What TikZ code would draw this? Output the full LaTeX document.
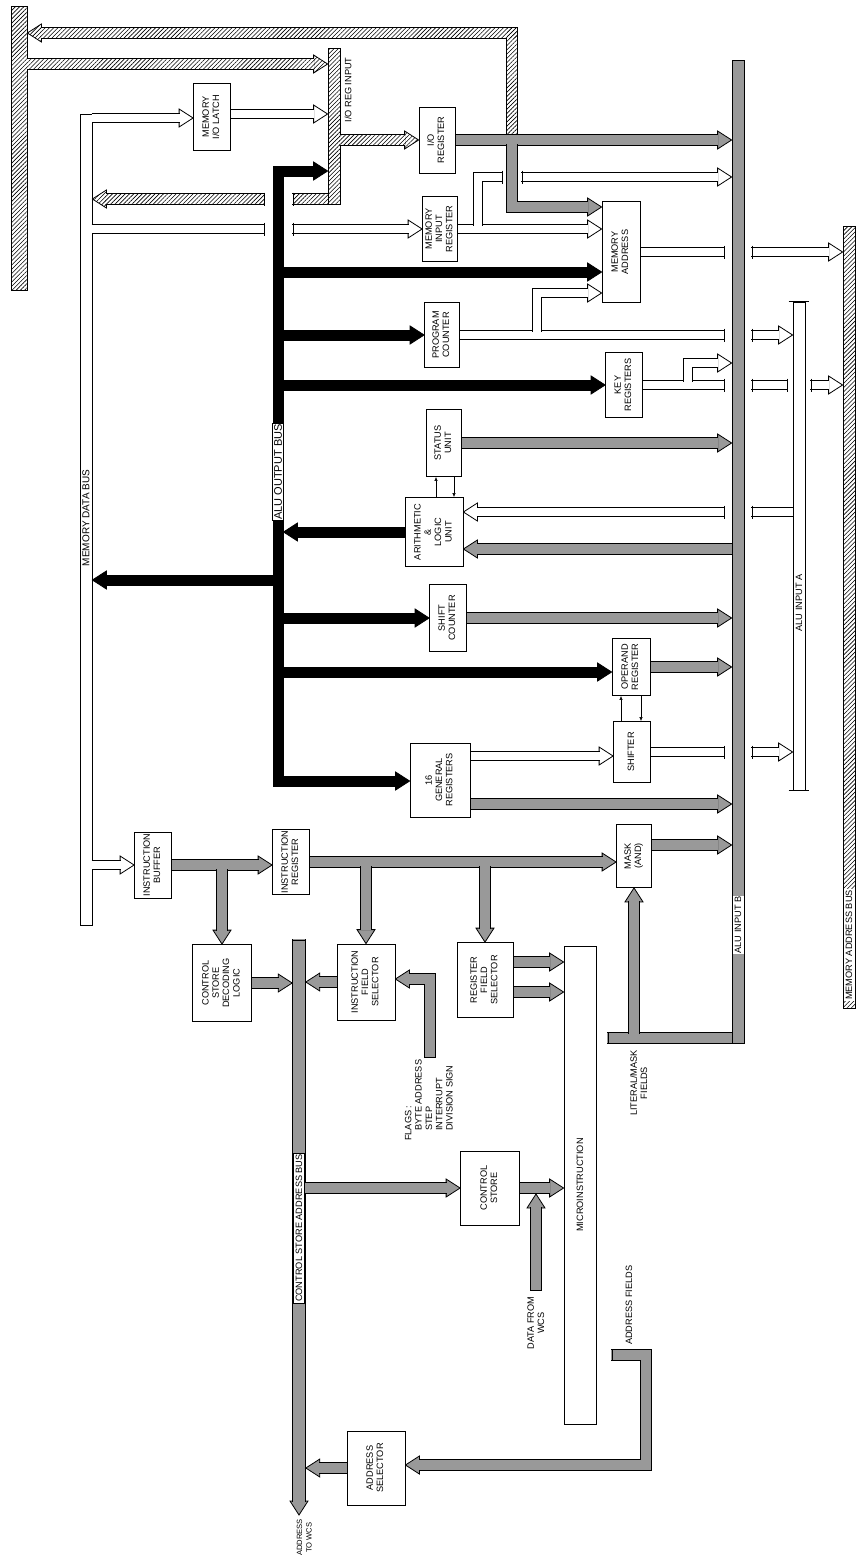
\documentclass[tikz,border=0pt]{standalone}
\usepackage{fontspec}
\setmainfont{Liberation Sans}
\usepackage{graphicx}
\usetikzlibrary{arrows.meta,calc,patterns.meta}
\pgfdeclarelayer{back}
\pgfdeclarelayer{mid}
\pgfsetlayers{back,mid,main}

\newcommand\boxfont{\fontsize{9.2}{10.3}\selectfont}
\newcommand\rt[1]{\rotatebox{90}{\begin{tabular}{@{}c@{}}#1\end{tabular}}}
\newcommand\headlen{14pt}
\newcommand\headhw{9pt}
% head of a fat bus arrow: style, last point, tip
\newcommand\fathead[3]{%
  \coordinate (hp) at (#2); \coordinate (ht) at (#3);
  \coordinate (hb) at ($(ht)!\headlen!(hp)$);
  \filldraw[#1] ($(hb)!\headhw!90:(ht)$) -- (ht) -- ($(hb)!\headhw!-90:(ht)$) -- cycle;}
% fat bus arrow: style, path so far, last point, tip
\newcommand\busto[4]{%
  \fathead{#1 head}{#3}{#4}
  \draw[#1] #2 (#3) -- (hb);}
% end caps of a bus that stops short
\newcommand\vcap[2][6.5]{\coordinate (cp) at (#2);
  \draw[capline] ($(cp)+(0,-#1)$) -- ($(cp)+(0,#1)$);}
\newcommand\hcap[2][6.5]{\coordinate (cp) at (#2);
  \draw[capline] ($(cp)+(-#1,0)$) -- ($(cp)+(#1,0)$);}

\begin{document}
\begin{tikzpicture}[x=1pt, y=-1pt,
  blk/.style={draw, line width=0.8pt, fill=white, inner sep=0pt, font=\boxfont},
  hatch/.style={pattern={Lines[angle=45,distance=3pt,line width=0.6pt]}},
  hbar/.style={draw, line width=0.8pt, fill=white, postaction={hatch}},
  gbar/.style={draw, line width=0.8pt, fill=black!40},
  wbar/.style={draw, line width=0.8pt, fill=white},
  gbus/.style={draw=black, line width=0.8pt, double=black!40, double distance=10pt,
               line join=miter, shorten <=-0.8pt, shorten >=-0.8pt},
  gbus head/.style={draw=black, line width=0.8pt, fill=black!40, line join=miter},
  csbus/.style={gbus, double distance=12pt},
  csbus head/.style={gbus head},
  wbus/.style={gbus, double=white, double distance=8pt},
  wbus head/.style={gbus head, fill=white},
  hbus/.style={gbus, double=white},
  hbus head/.style={gbus head, fill=white, postaction={hatch}},
  kbus/.style={draw=black, line width=11pt, line join=miter, shorten <=-0.8pt, shorten >=-0.8pt},
  kbus head/.style={draw=black, line width=0.8pt, fill=black, line join=miter},
  capline/.style={line width=0.8pt},
  link/.style={line width=0.6pt, -{Latex[length=4pt,width=3.5pt]}},
  buslbl/.style={fill=white, inner sep=1pt, minimum width=11pt, font=\boxfont},
  txt/.style={inner sep=0pt, font=\boxfont},
]
\useasboundingbox (0,0) rectangle (860,1558);

% ---------- blocks
\node[blk, minimum width=37pt, minimum height=67pt] (latch) at (212,117) {\rt{MEMORY\\I/O LATCH}};
\node[blk, minimum width=36pt, minimum height=66pt] (ioreg) at (437,140) {\rt{I/O\\REGISTER}};
\node[blk, minimum width=35pt, minimum height=65pt] (mir) at (440,229) {\rt{MEMORY\\INPUT\\REGISTER}};
\node[blk, minimum width=38pt, minimum height=101pt] (ma) at (621,252) {\rt{MEMORY\\ADDRESS}};
\node[blk, minimum width=35pt, minimum height=65pt] (pc) at (442,335) {\rt{PROGRAM\\COUNTER}};
\node[blk, minimum width=37pt, minimum height=65pt] (key) at (624,385) {\rt{KEY\\REGISTERS}};
\node[blk, minimum width=35pt, minimum height=67pt] (status) at (444,443) {\rt{STATUS\\UNIT}};
\node[blk, minimum width=58pt, minimum height=69pt] (alu) at (434,532) {\rt{ARITHMETIC\\\&\\LOGIC\\UNIT}};
\node[blk, minimum width=37pt, minimum height=67pt] (shiftc) at (448,618) {\rt{SHIFT\\COUNTER}};
\node[blk, minimum width=38pt, minimum height=57pt] (operand) at (631,667) {\rt{OPERAND\\REGISTER}};
\node[blk, minimum width=37pt, minimum height=61pt] (shifter) at (632,752) {\rt{SHIFTER}};
\node[blk, minimum width=60pt, minimum height=74pt] (genreg) at (440,780) {\rt{16\\GENERAL\\REGISTERS}};
\node[blk, minimum width=35pt, minimum height=63pt] (mask) at (634,856) {\rt{MASK\\(AND)}};
\node[blk, minimum width=37pt, minimum height=66pt] (ib) at (153,865) {\rt{INSTRUCTION\\BUFFER}};
\node[blk, minimum width=37pt, minimum height=65pt] (ir) at (291,862) {\rt{INSTRUCTION\\REGISTER}};
\node[blk, minimum width=59pt, minimum height=77pt] (csdl) at (222,983) {\rt{CONTROL\\STORE\\DECODING\\LOGIC}};
\node[blk, minimum width=58pt, minimum height=76pt] (ifs) at (366,982) {\rt{INSTRUCTION\\FIELD\\SELECTOR}};
\node[blk, minimum width=56pt, minimum height=75pt] (rfs) at (485,980) {\rt{REGISTER\\FIELD\\SELECTOR}};
\node[blk, minimum width=59pt, minimum height=74pt] (cs) at (490,1188) {\rt{CONTROL\\STORE}};
\node[blk, minimum width=58pt, minimum height=74pt] (as) at (376,1468) {\rt{ADDRESS\\SELECTOR}};
\node[blk, minimum width=32pt, minimum height=478pt] (micro) at (580,1185) {\rotatebox{90}{MICROINSTRUCTION}};

% ---------- the bus bars
\begin{pgfonlayer}{back}
\node[hbar, minimum width=16pt, minimum height=284pt] (lbar) at (19,148) {};
\node[hbar, minimum width=12pt, minimum height=156pt] (iori) at (334,126) {};
\node[hbar, minimum width=12pt, minimum height=782pt] (mab) at (849,617) {};
\node[wbar, minimum width=12pt, minimum height=811pt] (mdb) at (86,519.5) {};
\node[gbar, minimum width=12pt, minimum height=983pt] (alub) at (738,551.5) {};
\node[wbar, minimum width=12pt, minimum height=488pt] (alua) at (799,546) {};
\end{pgfonlayer}

\begin{pgfonlayer}{mid}
% where a line is broken to pass a bus
\coordinate (xo1) at (264,0);  \coordinate (xo2) at (293,0);
\coordinate (xg1) at (502,0);  \coordinate (xg2) at (522,0);
\coordinate (xb1) at (724,0);  \coordinate (xb2) at (752,0);
\coordinate (xa1) at (787,0);  \coordinate (xa2) at (811,0);

% ---------- i/o lines (hatched)
\coordinate (hj) at (512,135);
\coordinate (hc) at (512,33);
\busto{hbus}{(hj) -- }{hc}{lbar.east |- hc}
\fill[hatch] ($(hc)+(-5,-5)$) rectangle ($(hj)+(5,1)$);
\fill[hatch] ($(hb)+(-1,-5)$) rectangle ($(hc)+(5,5)$);
\busto{hbus}{}{lbar.east |- 0,64}{iori.west |- 0,64}
\fill[hatch] ($(lbar.east |- hb)+(-1,-5)$) rectangle ($(hb)+(1,5)$);
\busto{hbus}{}{iori.east |- ioreg.west}{ioreg.west}
\fill[hatch] ($(iori.east |- hb)+(-1,-5)$) rectangle ($(hb)+(1,5)$);
\coordinate (ib1) at (iori.west |- 0,199);
\draw[hbus] (ib1) -- (xo2 |- ib1);
\fill[hatch] ($(xo2 |- ib1)+(0,-5)$) rectangle ($(ib1)+(1,5)$);
\vcap{xo2 |- ib1}
\busto{hbus}{}{xo1 |- ib1}{mdb.east |- ib1}
\fill[hatch] ($(hb)+(-1,-5)$) rectangle ($(xo1 |- ib1)+(0,5)$);
\vcap{xo1 |- ib1}

% ---------- ALU output bus (black)
\coordinate (ao1) at (278,171);
\coordinate (ao2) at (278,781);
\coordinate (aoL) at (272.5,0); \coordinate (aoR) at (283.5,0);
\fathead{kbus head}{ao1}{iori.west |- ao1}
\coordinate (hb1) at (hb);
\busto{kbus}{(hb1) -- (ao1) -- }{ao2}{genreg.west |- ao2}
\busto{kbus}{}{aoR |- 0,272}{ma.west |- 0,272}
\busto{kbus}{}{pc.west -| aoR}{pc.west}
\busto{kbus}{}{key.west -| aoR}{key.west}
\busto{kbus}{}{alu.west}{alu.west -| aoR}
\busto{kbus}{}{shiftc.west -| aoR}{shiftc.west}
\busto{kbus}{}{aoR |- 0,672}{operand.west |- 0,672}
\busto{kbus}{}{aoL |- 0,580}{mdb.east |- 0,580}

% ---------- into ALU input B (gray)
\busto{gbus}{}{ioreg.east}{alub.west |- ioreg.east}
\coordinate (gj) at (512,145);
\coordinate (gk) at (512,207);
\busto{gbus}{(gj) -- }{gk}{ma.west |- gk}
\busto{gbus}{}{status.east}{alub.west |- status.east}
\busto{gbus}{}{alub.west |- 0,549}{alu.east |- 0,549}
\busto{gbus}{}{shiftc.east}{alub.west |- shiftc.east}
\busto{gbus}{}{operand.east}{alub.west |- operand.east}
\busto{gbus}{}{genreg.east |- 0,804}{alub.west |- 0,804}
\busto{gbus}{}{mask.east |- 0,845}{alub.west |- 0,845}
\coordinate (lit) at (608,1038);
\draw[gbus] (lit) -- (alub.west |- lit);
\vcap[5.8]{lit}
\busto{gbus}{}{mask.south |- 0,1033}{mask.south}

% ---------- hollow lines
\busto{wbus}{}{mdb.east |- 0,118}{latch.west |- 0,118}
\busto{wbus}{}{latch.east |- 0,114}{iori.west |- 0,114}
\draw[wbus] (mdb.east |- mir.west) -- (xo1 |- mir.west);
\vcap{xo1 |- mir.west}
\busto{wbus}{}{xo2 |- mir.west}{mir.west}
\vcap{xo2 |- mir.west}
\busto{wbus}{}{mir.east}{ma.west |- mir.east}
\coordinate (mj) at (478,225);
\coordinate (mk) at (478,177);
\draw[wbus] (mj) -- (mk) -- (xg1 |- mk);
\vcap{xg1 |- mk}
\busto{wbus}{}{xg2 |- mk}{alub.west |- mk}
\vcap{xg2 |- mk}
% program counter
\draw[wbus] (pc.east) -- (xb1 |- pc.east);
\vcap{xb1 |- pc.east}
\coordinate (pj) at (537,331);
\coordinate (pk) at (537,293);
\busto{wbus}{(pj) -- }{pk}{ma.west |- pk}
\busto{wbus}{}{xb2 |- pc.east}{alua.west |- pc.east}
\vcap{xb2 |- pc.east}
% key registers
\draw[wbus] (key.east) -- (xb1 |- key.east);
\vcap{xb1 |- key.east}
\coordinate (kj) at (688,381);
\coordinate (kk) at (688,363);
\busto{wbus}{(kj) -- }{kk}{alub.west |- kk}
\draw[wbus] (xb2 |- key.east) -- (xa1 |- key.east);
\vcap{xb2 |- key.east}
\vcap{xa1 |- key.east}
\busto{wbus}{}{xa2 |- key.east}{mab.west |- key.east}
\vcap{xa2 |- key.east}
% memory address
\draw[wbus] (ma.east) -- (xb1 |- ma.east);
\vcap{xb1 |- ma.east}
\busto{wbus}{}{xb2 |- ma.east}{mab.west |- ma.east}
\vcap{xb2 |- ma.east}
% ALU input A
\draw[wbus] (alua.west |- 0,512) -- (xb2 |- 0,512);
\vcap{xb2 |- 0,512}
\busto{wbus}{}{xb1 |- 0,512}{alu.east |- 0,512}
\vcap{xb1 |- 0,512}
\busto{wbus}{}{genreg.east |- 0,756}{shifter.west |- 0,756}
\draw[wbus] (shifter.east) -- (xb1 |- shifter.east);
\vcap{xb1 |- shifter.east}
\busto{wbus}{}{xb2 |- shifter.east}{alua.west |- shifter.east}
\vcap{xb2 |- shifter.east}
\busto{wbus}{}{mdb.east |- ib.west}{ib.west}

% ---------- instruction side (gray)
\busto{gbus}{}{ib.east}{ir.west |- ib.east}
\busto{gbus}{}{csdl.north |- 0,870}{csdl.north}
\busto{gbus}{}{ir.east}{mask.west |- ir.east}
\busto{gbus}{}{ifs.north |- 0,867}{ifs.north}
\busto{gbus}{}{rfs.north |- 0,867}{rfs.north}
\coordinate (cst) at (299,940);
\coordinate (csb) at (299,1515);
\coordinate (csL) at (292.2,0); \coordinate (csR) at (305.8,0);
\busto{csbus}{}{cst}{csb}
\hcap[6.8]{cst}
\busto{gbus}{}{csdl.east}{csdl.east -| csL}
\busto{gbus}{}{ifs.west}{ifs.west -| csR}
\busto{gbus}{}{cs.west -| csR}{cs.west}
\busto{gbus}{}{as.west}{as.west -| csR}
\coordinate (fl) at (430,1057);
\coordinate (fc) at (430,979);
\busto{gbus}{(fl) -- }{fc}{ifs.east |- fc}
\hcap[5.8]{fl}
\busto{gbus}{}{rfs.east |- 0,962}{micro.west |- 0,962}
\busto{gbus}{}{rfs.east |- 0,992}{micro.west |- 0,992}
\busto{gbus}{}{cs.east}{micro.west |- cs.east}
\coordinate (dw) at (536,1290);
\busto{gbus}{}{dw}{dw |- 0,1194}
\hcap[5.8]{dw}
\coordinate (af1) at (612,1355);
\coordinate (af2) at (646,1355);
\coordinate (af3) at (646,1465);
\busto{gbus}{(af1) -- (af2) -- }{af3}{as.east |- af3}
\vcap[5.8]{af1}

% ---------- status and shifter handshakes
\draw[link] (alu.north -| 436,0) -- (status.south -| 436,0);
\draw[link] (status.south -| 454,0) -- (alu.north -| 454,0);
\draw[link] (shifter.north -| 621,0) -- (operand.south -| 621,0);
\draw[link] (operand.south -| 641,0) -- (shifter.north -| 641,0);
\draw[capline] ($(alua.north west)+(-4,0)$) -- ($(alua.north east)+(4,0)$);
\draw[capline] ($(alua.south west)+(-4,0)$) -- ($(alua.south east)+(4,0)$);
\end{pgfonlayer}

% ---------- labels
\node[buslbl, font=\fontsize{10}{12}\selectfont] (l-mdb) at (86,518) {\rotatebox{90}{MEMORY DATA BUS}};
\node[buslbl, draw, line width=0.5pt, font=\fontsize{11}{13}\selectfont] (l-aob) at (278,472) {\rotatebox{90}{ALU OUTPUT BUS}};
\node[buslbl] (l-aib) at (738,925) {\rotatebox{90}{ALU INPUT B}};
\node[buslbl] (l-aia) at (799,603) {\rotatebox{90}{ALU INPUT A}};
\node[buslbl] (l-mab) at (849,945) {\rotatebox{90}{MEMORY ADDRESS BUS}};
\node[buslbl, draw, line width=0.5pt] (l-csab) at (299,1228) {\rotatebox{90}{CONTROL STORE ADDRESS BUS}};
\node[txt, anchor=west] (l-iori) at ($(iori.east |- 0,90)+(4,0)$) {\rotatebox{90}{I/O REG INPUT}};
\node[txt, anchor=south west] (l-flags) at (404,1141) {\rotatebox{90}{\begin{tabular}{@{}l@{}}FLAGS :\\
  \hspace{10pt}BYTE ADDRESS\\ \hspace{10pt}STEP\\ \hspace{10pt}INTERRUPT\\ \hspace{10pt}DIVISION SIGN\end{tabular}}};
\node[txt] (l-lit) at (640,1083) {\rt{LITERAL/MASK\\FIELDS}};
\node[txt] (l-data) at (537,1323) {\rt{DATA FROM\\WCS}};
\node[txt, anchor=south] (l-af) at (629,1345) {\rotatebox{90}{ADDRESS FIELDS}};
\node[txt, anchor=north, font=\fontsize{7.6}{9.4}\selectfont] (l-wcs) at (305,1519) {\rt{ADDRESS\\TO WCS}};
\end{tikzpicture}
\end{document}
